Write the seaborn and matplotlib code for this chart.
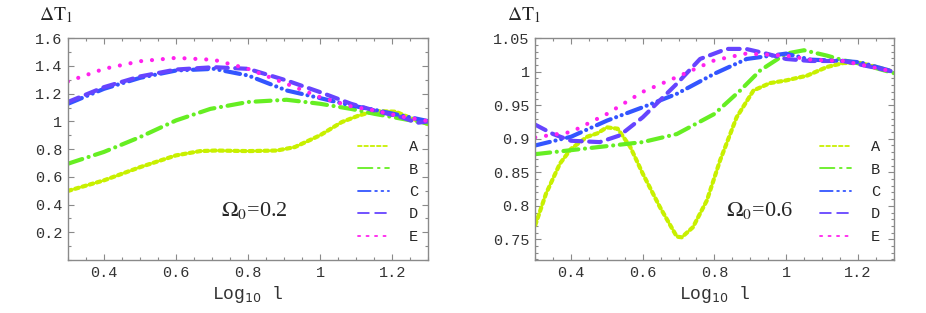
import numpy as np
import pandas as pd
import seaborn as sns
import matplotlib.pyplot as plt
from matplotlib.lines import Line2D
from matplotlib.ticker import MultipleLocator

# left panel, Omega0 = 0.2
left_x = {
    "A": [0.3, 0.4, 0.5, 0.6, 0.667, 0.71, 0.8, 0.88, 0.93, 1.0, 1.06, 1.105, 1.15, 1.21, 1.255, 1.3],
    "B": [0.3, 0.4, 0.5, 0.6, 0.695, 0.8, 0.907, 1.0, 1.086, 1.15, 1.225, 1.3],
    "C": [0.3, 0.4, 0.5, 0.6, 0.705, 0.8, 0.907, 1.0, 1.086, 1.15, 1.225, 1.3],
    "D": [0.3, 0.4, 0.5, 0.6, 0.705, 0.8, 0.907, 1.0, 1.086, 1.15, 1.225, 1.27, 1.3],
    "E": [0.3, 0.4, 0.5, 0.6, 0.705, 0.8, 0.907, 1.0, 1.086, 1.15, 1.225, 1.3],
}
left_y = {
    "A": [0.499, 0.575, 0.67, 0.755, 0.786, 0.79, 0.786, 0.79, 0.815, 0.90, 0.995, 1.04, 1.075, 1.07, 1.02, 0.98],
    "B": [0.695, 0.78, 0.887, 1.007, 1.09, 1.14, 1.156, 1.127, 1.09, 1.055, 1.02, 0.984],
    "C": [1.127, 1.235, 1.314, 1.367, 1.379, 1.331, 1.223, 1.168, 1.115, 1.084, 1.043, 1.002],
    "D": [1.14, 1.247, 1.324, 1.374, 1.391, 1.379, 1.295, 1.211, 1.127, 1.079, 1.031, 0.99, 1.0],
    "E": [1.288, 1.379, 1.434, 1.458, 1.444, 1.379, 1.271, 1.175, 1.108, 1.079, 1.036, 1.002],
}

# right panel, Omega0 = 0.6
right_x = {
    "A": [0.3, 0.33, 0.369, 0.4, 0.445, 0.473, 0.5, 0.53, 0.565, 0.6, 0.648, 0.695, 0.709, 0.74,
          0.779, 0.816, 0.862, 0.909, 0.955, 1.0, 1.058, 1.114, 1.16, 1.207, 1.253, 1.3],
    "B": [0.3, 0.4, 0.5, 0.6, 0.695, 0.8, 0.872, 0.928, 1.0, 1.05, 1.114, 1.16, 1.207, 1.3],
    "C": [0.3, 0.4, 0.5, 0.6, 0.695, 0.8, 0.89, 1.0, 1.068, 1.16, 1.207, 1.3],
    "D": [0.3, 0.35, 0.4, 0.48, 0.536, 0.6, 0.695, 0.76, 0.834, 0.888, 0.945, 1.0, 1.068, 1.16, 1.3],
    "E": [0.3, 0.4, 0.5, 0.6, 0.695, 0.8, 0.888, 1.0, 1.068, 1.16, 1.3],
}
right_y = {
    "A": [0.771, 0.818, 0.863, 0.885, 0.903, 0.908, 0.917, 0.915, 0.888, 0.848, 0.798, 0.754, 0.753, 0.768,
          0.808, 0.868, 0.932, 0.972, 0.983, 0.987, 0.994, 1.007, 1.013, 1.013, 1.007, 1.0],
    "B": [0.877, 0.883, 0.889, 0.895, 0.907, 0.937, 0.972, 1.002, 1.027, 1.032, 1.024, 1.017, 1.012, 0.998],
    "C": [0.890, 0.903, 0.927, 0.947, 0.967, 0.997, 1.019, 1.027, 1.018, 1.016, 1.014, 1.0],
    "D": [0.921, 0.907, 0.897, 0.895, 0.905, 0.932, 0.982, 1.019, 1.034, 1.034, 1.027, 1.019, 1.016, 1.016, 1.0],
    "E": [0.902, 0.91, 0.937, 0.97, 0.992, 1.017, 1.027, 1.024, 1.018, 1.016, 1.0],
}

series = ["A", "B", "C", "D", "E"]
colors = {"A": "#c8f000", "B": "#66ee22", "C": "#3355ff", "D": "#6644ff", "E": "#ff22ee"}
dashes = {"A": (0.9, 0.9), "B": (3.6, 1.6, 0.01, 1.6), "C": (3.6, 1.4, 0.01, 1.4, 0.01, 1.4),
          "D": (2.8, 1.8), "E": (0.01, 2.6)}
legend_dashes = {"A": (2, 1.5), "B": (8, 3, 1, 3), "C": (7, 2.5, 1, 2.5, 1, 2.5),
                 "D": (6, 3.5), "E": (1.2, 3.5)}


def to_long(xs, ys):
    rows = []
    for s in series:
        for xv, yv in zip(xs[s], ys[s]):
            rows.append({"x": xv, "y": yv, "series": s})
    return pd.DataFrame(rows)


sns.set_style("ticks")
plt.rcParams["lines.dash_capstyle"] = "round"
plt.rcParams["lines.solid_capstyle"] = "round"
plt.rcParams["mathtext.fontset"] = "stix"

fig = plt.figure(figsize=(9.26, 3.13), dpi=100)
ax1 = fig.add_axes([0.0734, 0.169, 0.389, 0.709])
ax2 = fig.add_axes([0.578, 0.169, 0.387, 0.709])

panels = [
    (ax1, to_long(left_x, left_y), (0, 1.6), 0.2, 0.1, r"$\Omega_0$=0.2", 0.517, 0.806),
    (ax2, to_long(right_x, right_y), (0.719, 1.05), 0.05, 0.01, r"$\Omega_0$=0.6", 0.626, 0.796),
]

mono = "Liberation Mono"
serif = "Liberation Serif"
gray = "#8a8a8a"
txt = "#333333"

for ax, df, ylim, ymaj, ymin, om, omx, legx in panels:
    sns.lineplot(data=df, x="x", y="y", hue="series", style="series",
                 palette=colors, dashes=dashes, linewidth=3.0,
                 estimator=None, sort=False, legend=False, ax=ax)
    for ln in ax.lines:
        ln.set_dash_capstyle("round")
    ax.set_xlim(0.3, 1.3)
    ax.set_ylim(*ylim)
    ax.xaxis.set_minor_locator(MultipleLocator(0.05))
    ax.yaxis.set_minor_locator(MultipleLocator(ymin))
    ax.tick_params(which="both", direction="in", top=True, right=True, color=gray, width=0.8)
    ax.tick_params(which="major", length=4, pad=4)
    ax.tick_params(which="minor", length=2)
    xt = list(np.arange(0.4, 1.21, 0.2))
    ax.set_xticks(xt)
    ax.set_xticklabels([("%g" % round(t, 2)) for t in xt], family=mono, fontsize=11, color=txt)
    n = int(round((ylim[1] - ylim[0]) / ymaj)) + 2
    yt = [round(ylim[1] - i * ymaj, 2) for i in range(n) if ylim[1] - i * ymaj > ylim[0] + 1e-6]
    ax.set_yticks(yt)
    ax.set_yticklabels([("%g" % t) for t in yt], family=mono, fontsize=11, color=txt)
    ax.set_ylim(*ylim)
    for sp in ax.spines.values():
        sp.set_color(gray)
        sp.set_linewidth(1.0)
    ax.set_xlabel(r"Log$_{10}$ l", family=mono, fontsize=13, color=txt,
                  math_fontfamily="dejavusans", labelpad=3)
    ax.set_ylabel("")
    ax.text(-0.08, 1.06, r"$\Delta\mathrm{T}_1$", transform=ax.transAxes, fontsize=14,
            ha="left", va="bottom")
    ax.text(omx, 0.225, om, transform=ax.transAxes, fontsize=16, family=serif,
            ha="center", va="center")

    handles = [Line2D([], [], color=colors[s], lw=1.3, dashes=legend_dashes[s]) for s in series]
    ax.legend(handles, series, loc="upper left", bbox_to_anchor=(legx, 0.54), frameon=False,
              prop={"family": mono, "size": 11}, handlelength=2.0, handletextpad=1.3,
              labelspacing=0.55, borderpad=0, borderaxespad=0)

fig.savefig("out.png", dpi=100)
